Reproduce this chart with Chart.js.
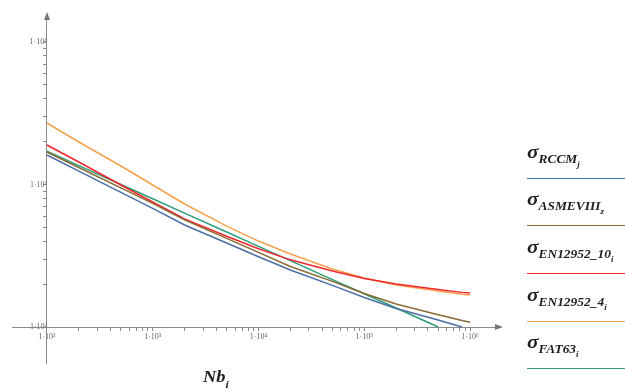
<!DOCTYPE html>
<html>
<head>
<meta charset="utf-8">
<script src="https://cdn.jsdelivr.net/npm/chart.js@4.4.1/dist/chart.umd.min.js"></script>
<style>
  body { margin: 0; background: #fff; }
  #wrap { position: relative; width: 625px; height: 391px; }
  .leg { position: absolute; left: 527px; font-family: "Liberation Serif", serif; font-weight: bold;
         font-style: italic; color: #1e1e1e; white-space: nowrap; line-height: 17px; font-size: 19px;
         transform: scaleX(1.12); transform-origin: 0 0; }
  .leg .s1 { font-size: 12px; position: relative; top: 5px; }
  .leg .s2 { font-size: 8px; position: relative; top: 9px; }
  .ln { position: absolute; left: 527px; width: 98px; height: 0; border-top: 1.5px solid; }
  #xt { position: absolute; left: 203px; top: 368px; font-family: "Liberation Serif", serif;
        font-weight: bold; font-style: italic; font-size: 16px; color: #1e1e1e;
        transform: scaleX(1.15); transform-origin: 0 0; }
  #xt span { font-size: 10px; position: relative; top: 6px; }
</style>
</head>
<body>
<div id="wrap">
  <canvas id="myChart"></canvas>
</div>
<script>
// cycles (x) and stress amplitudes (y)
const cycles = [100, 200, 500, 1000, 2000, 5000, 1e4, 2e4, 5e4, 1e5, 2e5, 5e5, 8.4e5, 1e6];
const sRCCM  = [1611, 1240, 880, 680, 520, 389, 311, 251, 196, 161, 135, 112, 100, null];
const sASME  = [1691, 1316, 946, 737, 564, 419, 334, 266, 209, 172, 145, 122, 111, 108];
const sEN10  = [1893, 1438, 992, 754, 573, 433, 354, 296, 247, 219, 200, 183, 175, 173];
const sEN4   = [2701, 1987, 1348, 992, 730, 511, 401, 325, 255, 221, 197, 179, 170, 168];
const sFAT63 = [1710, 1357, 1000, 794, 630, 464, 368, 292, 215, 171, 136, 100, null, null];

const names  = ['RCCM', 'ASMEVIII', 'EN12952_10', 'EN12952_4', 'FAT63'];
const subs   = ['j', 'z', 'i', 'i', 'i'];
const colors = ['#4a6fa5', '#8a6a35', '#f0282d', '#f7a14e', '#2e9e78'];
const series = [sRCCM, sASME, sEN10, sEN4, sFAT63];

const sup = {2: '²', 3: '³', 4: '⁴', 5: '⁵', 6: '⁶'};
function tickLabel(v) {
    if (v < 99) return null;
    const e = Math.log10(v);
    const r = Math.round(e);
    if (Math.abs(e - r) < 1e-9) return '1·10' + sup[r];
    const m = v / Math.pow(10, Math.floor(e));
    if (Math.abs(m - Math.round(m)) < 1e-6) return '';
    return null;
}

// petites flèches au bout des axes
const arrows = {
    id: 'arrows',
    afterDraw(chart) {
        const c = chart.ctx, a = chart.chartArea;
        const x0 = chart.scales.x.getPixelForValue(100);
        const y0 = chart.scales.y.getPixelForValue(100);
        c.save();
        c.fillStyle = '#777';
        c.beginPath();
        c.moveTo(x0, a.top - 3); c.lineTo(x0 - 3, a.top + 5); c.lineTo(x0 + 3, a.top + 5);
        c.fill();
        c.beginPath();
        c.moveTo(a.right + 3, y0); c.lineTo(a.right - 5, y0 - 3); c.lineTo(a.right - 5, y0 + 3);
        c.fill();
        c.restore();
    }
};

const axisFont = { family: 'Liberation Serif', size: 8 };

const ctx = document.getElementById('myChart').getContext('2d');
const myChart = new Chart(ctx, {
    type: 'line',
    data: {
        datasets: series.map((s, i) => ({
            label: names[i],
            data: cycles.map((n, k) => ({ x: n, y: s[k] })),
            borderColor: colors[i],
            borderWidth: 1.5,
            pointRadius: 0,
            tension: 0,
            spanGaps: false
        }))
    },
    options: {
        responsive: true,
        maintainAspectRatio: false,
        animation: false,
        layout: { padding: { left: 12, right: 125, top: 15, bottom: 28 } },
        plugins: { legend: { display: false }, tooltip: { enabled: false } },
        scales: {
            x: {
                type: 'logarithmic',
                min: 46.7, max: 1.921e6,
                position: { y: 100 },
                grid: { drawOnChartArea: false, tickLength: 3, color: '#8a8a8a' },
                border: { color: '#8a8a8a' },
                ticks: { callback: tickLabel, autoSkip: false, maxRotation: 0, padding: 2,
                         font: axisFont, color: '#666', major: { enabled: false } }
            },
            y: {
                type: 'logarithmic',
                min: 55.9, max: 15470,
                position: { x: 100 },
                grid: { drawOnChartArea: false, tickLength: 3, color: '#8a8a8a' },
                border: { color: '#8a8a8a' },
                ticks: { callback: tickLabel, autoSkip: false, padding: 3,
                         font: axisFont, color: '#666', major: { enabled: false } }
            }
        }
    },
    plugins: [arrows]
});

// légende façon Mathcad
const wrap = document.getElementById('wrap');
const legTops = [143, 190, 238, 286, 333];
names.forEach((n, i) => {
    const d = document.createElement('div');
    d.className = 'leg';
    d.style.top = legTops[i] + 'px';
    d.innerHTML = 'σ<span class="s1">' + n + '</span><span class="s2">' + subs[i] + '</span>';
    wrap.appendChild(d);
    const l = document.createElement('div');
    l.className = 'ln';
    l.style.top = (legTops[i] + 35) + 'px';
    l.style.borderColor = colors[i];
    wrap.appendChild(l);
});
const xt = document.createElement('div');
xt.id = 'xt';
xt.innerHTML = 'Nb<span>i</span>';
wrap.appendChild(xt);
</script>
</body>
</html>
